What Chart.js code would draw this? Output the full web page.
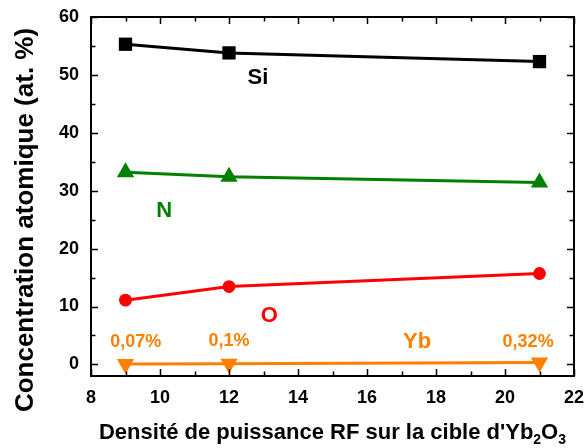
<!DOCTYPE html>
<html>
<head>
<meta charset="utf-8">
<script src="https://cdn.jsdelivr.net/npm/chart.js@4.4.1/dist/chart.umd.min.js"></script>
<style>
    html, body { margin: 0; padding: 0; background: #fff; }
    #wrap { width: 585px; height: 448px; }
</style>
</head>
<body>
<div id="wrap"><canvas id="chart" width="585" height="448"></canvas></div>
<script>
'use strict'

// puissance RF (W/cm2) et concentrations (at. %)
const densites = [9, 12, 21];
const si = [55.3, 53.8, 52.3];
const azote = [33.2, 32.4, 31.4];
const oxygene = [11.1, 13.45, 15.7];
const ytterbium = [0.07, 0.1, 0.32];
const ytterbiumLabels = ['0,07%', '0,1%', '0,32%'];

const xTicks = [8, 10, 12, 14, 16, 18, 20, 22];
const yTicks = [0, 10, 20, 30, 40, 50, 60];

// étiquettes des éléments, placées en coordonnées des axes
const elementLabels = [
    {text: 'Si', x: 12.84, y: 49.4, color: '#000000'},
    {text: 'N', x: 10.12, y: 26.5, color: '#008000'},
    {text: 'O', x: 13.17, y: 8.4, color: '#ff0000'},
    {text: 'Yb', x: 17.45, y: 3.9, color: '#ff8000'}
];
const percentPos = [
    {x: 9.30, y: 3.9},
    {x: 12.0, y: 4.1},
    {x: 20.67, y: 3.8}
];

const FONT = '"Liberation Sans", Arial, sans-serif';

function points(values) {
    return densites.map((d, i) => ({x: d, y: values[i]}));
}

function serie(label, values, color, style, radius, rotation) {
    return {
        label: label,
        data: points(values),
        borderColor: color,
        backgroundColor: color,
        borderWidth: 3,
        pointStyle: style,
        pointRadius: radius,
        pointHoverRadius: radius,
        pointRotation: rotation || 0,
        pointBorderWidth: 0,
        tension: 0
    };
}

// cadre, graduations internes sur les quatre côtés, titres et annotations
const decorations = {
    id: 'decorations',
    afterDatasetsDraw(chart) {
        const ctx = chart.ctx;
        const area = chart.chartArea;
        const xs = chart.scales.x;
        const ys = chart.scales.y;

        ctx.save();
        ctx.strokeStyle = '#000';
        ctx.lineWidth = 2;
        ctx.strokeRect(area.left, area.top, area.right - area.left, area.bottom - area.top);

        ctx.lineWidth = 1.5;
        ctx.beginPath();
        for (let v = 8; v <= 22; v += 1) {
            const px = Math.round(xs.getPixelForValue(v)) + 0.5;
            const len = v % 2 === 0 ? 7 : 4.5;
            ctx.moveTo(px, area.bottom);
            ctx.lineTo(px, area.bottom - len);
            ctx.moveTo(px, area.top);
            ctx.lineTo(px, area.top + len);
        }
        for (let v = 0; v <= 60; v += 5) {
            const py = Math.round(ys.getPixelForValue(v)) + 0.5;
            const len = v % 10 === 0 ? 7 : 4.5;
            ctx.moveTo(area.left, py);
            ctx.lineTo(area.left + len, py);
            ctx.moveTo(area.right, py);
            ctx.lineTo(area.right - len, py);
        }
        ctx.stroke();

        ctx.textAlign = 'center';
        ctx.textBaseline = 'middle';
        ctx.font = 'bold 22px ' + FONT;
        for (let l of elementLabels) {
            ctx.fillStyle = l.color;
            ctx.fillText(l.text, xs.getPixelForValue(l.x), ys.getPixelForValue(l.y));
        }

        ctx.font = 'bold 18px ' + FONT;
        ctx.fillStyle = '#ff8000';
        for (let i = 0; i < ytterbiumLabels.length; i++) {
            ctx.fillText(ytterbiumLabels[i], xs.getPixelForValue(percentPos[i].x), ys.getPixelForValue(percentPos[i].y));
        }

        // titre vertical
        ctx.fillStyle = '#000';
        ctx.save();
        ctx.translate(26, 220);
        ctx.rotate(-Math.PI / 2);
        ctx.font = 'bold 26px ' + FONT;
        ctx.fillText('Concentration atomique (at. %)', 0, 0);
        ctx.restore();

        // titre horizontal avec indices
        const parts = [
            {t: "Densité de puissance RF sur la cible d'Yb", sub: false},
            {t: '2', sub: true},
            {t: 'O', sub: false},
            {t: '3', sub: true}
        ];
        const big = 'bold 22px ' + FONT;
        const small = 'bold 14px ' + FONT;
        let total = 0;
        for (let p of parts) {
            ctx.font = p.sub ? small : big;
            p.w = ctx.measureText(p.t).width;
            total += p.w;
        }
        let x = (area.left + area.right) / 2 - total / 2;
        const base = 439;
        ctx.textAlign = 'left';
        ctx.textBaseline = 'alphabetic';
        for (let p of parts) {
            ctx.font = p.sub ? small : big;
            ctx.fillText(p.t, x, p.sub ? base + 5 : base);
            x += p.w;
        }
        ctx.restore();
    }
};

document.addEventListener('DOMContentLoaded', () => {
    const ctx = document.getElementById('chart').getContext('2d');

    new Chart(ctx, {
        type: 'line',
        data: {
            datasets: [
                serie('Si', si, '#000000', 'rect', 9.4),
                serie('N', azote, '#008000', 'triangle', 10),
                serie('O', oxygene, '#ff0000', 'circle', 6.4),
                serie('Yb', ytterbium, '#ff8000', 'triangle', 10, 180)
            ]
        },
        options: {
            responsive: false,
            animation: false,
            layout: {
                padding: {left: 0, right: 11, top: 17, bottom: 0}
            },
            plugins: {
                legend: {display: false},
                tooltip: {enabled: false}
            },
            scales: {
                x: {
                    type: 'linear',
                    min: 8,
                    max: 22,
                    afterBuildTicks: (scale) => {
                        scale.ticks = xTicks.map((v) => ({value: v}));
                    },
                    afterFit: (scale) => {
                        scale.height = 72;
                        scale.paddingLeft = 0;
                        scale.paddingRight = 0;
                    },
                    grid: {display: false, drawTicks: false},
                    border: {display: false},
                    ticks: {
                        color: '#000',
                        padding: 11,
                        maxRotation: 0,
                        font: {family: FONT, size: 18, weight: 'bold'}
                    }
                },
                y: {
                    type: 'linear',
                    min: -2,
                    max: 60,
                    afterBuildTicks: (scale) => {
                        scale.ticks = yTicks.map((v) => ({value: v}));
                    },
                    afterFit: (scale) => {
                        scale.width = 91;
                        scale.paddingTop = 0;
                        scale.paddingBottom = 0;
                    },
                    grid: {display: false, drawTicks: false},
                    border: {display: false},
                    ticks: {
                        color: '#000',
                        padding: 12,
                        font: {family: FONT, size: 18, weight: 'bold'}
                    }
                }
            }
        },
        plugins: [decorations]
    });
});
</script>
</body>
</html>
